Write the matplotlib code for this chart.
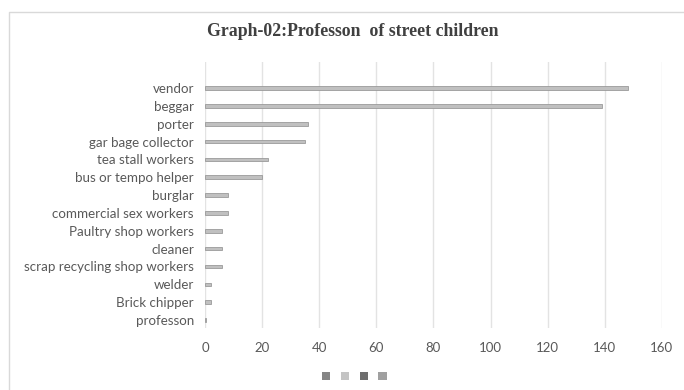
import matplotlib.pyplot as plt
from matplotlib.patches import Patch
from matplotlib.lines import Line2D

# data (top to bottom as shown)
jobs = ['vendor', 'beggar', 'porter', 'gar bage collector', 'tea stall workers',
        'bus or tempo helper', 'burglar', 'commercial sex workers',
        'Paultry shop workers', 'cleaner', 'scrap recycling shop workers',
        'welder', 'Brick chipper', 'professon']
counts = [148, 139, 36, 35, 22, 20, 8, 8, 6, 6, 6, 2, 2, 0.4]
xticks = [0, 20, 40, 60, 80, 100, 120, 140, 160]
legend_colors = ['#858585', '#c4c4c4', '#6e6e6e', '#a0a0a0']

txt_color = '#595959'
plt.rcParams['font.family'] = ['Lato', 'DejaVu Sans']

fig = plt.figure(figsize=(6.84, 3.9), dpi=100)
ax = fig.add_axes([0.2997, 0.159, 0.668, 0.682])

n = len(jobs)
ypos = [n - 1 - i for i in range(n)]
ax.barh(ypos, counts, height=0.2, color='#c0c0c0', edgecolor='#9a9a9a',
        linewidth=0.6, zorder=3)

ax.set_xlim(0, 160)
ax.set_ylim(-0.45, n - 1 + 1.46)
ax.set_xticks(xticks)
ax.set_xticklabels([str(t) for t in xticks], color=txt_color, fontsize=9.5)
ax.set_yticks(ypos)
ax.set_yticklabels(jobs, color=txt_color, fontsize=9.6)
ax.tick_params(length=0, pad=8)
ax.tick_params(axis='x', pad=10)
ax.grid(axis='x', color='#e3e3e3', linewidth=1, zorder=0)
for s in ax.spines.values():
    s.set_visible(False)

fig.text(0.515, 0.92, 'Graph-02:Professon  of street children',
         family='Liberation Serif', fontweight='bold', fontsize=12.8,
         color='#404040', ha='center', va='center')

# outer chart border (left and top)
fig.add_artist(Line2D([8.5 / 684, 8.5 / 684, 1], [0, 1 - 11.5 / 390, 1 - 11.5 / 390],
                      color='#d9d9d9', linewidth=1))

handles = [Patch(facecolor=c, edgecolor='none') for c in legend_colors]
fig.legend(handles, [''] * 4, ncol=4, loc='center', bbox_to_anchor=(0.518, 0.036),
           frameon=False, prop={'size': 8}, handlelength=0.75, handleheight=0.75,
           handletextpad=0, columnspacing=0.95)

fig.savefig('out.png', dpi=100)
